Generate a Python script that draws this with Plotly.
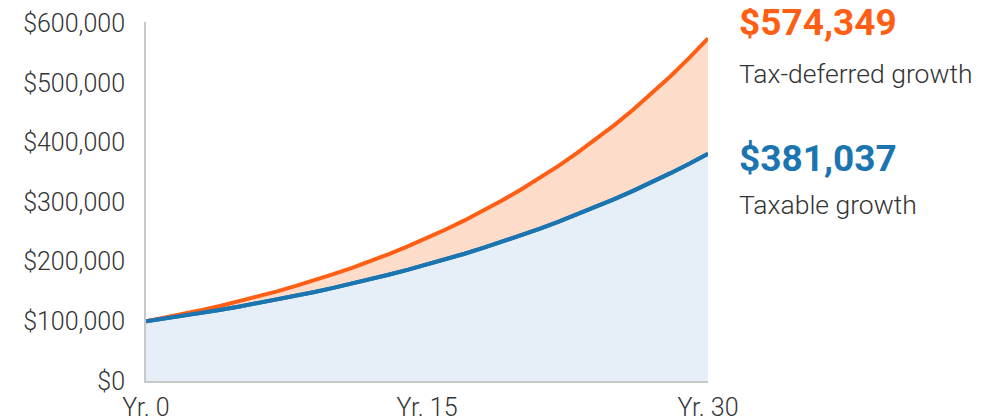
import plotly.graph_objects as go

years = list(range(0, 31))
tax_deferred = [100000, 106000, 112360, 119102, 126248, 133823, 141852, 150363, 159385, 168948,
                179085, 189830, 201220, 213293, 226090, 239656, 254035, 269277, 285434, 302560,
                320714, 339956, 360354, 381975, 404893, 429187, 454938, 482235, 511169, 541839,
                574349]
taxable = [100000, 104560, 109328, 114313, 119526, 124976, 130675, 136634, 142865, 149380,
           156192, 163314, 170761, 178548, 186690, 195203, 204104, 213411, 223143, 233318,
           243957, 255081, 266713, 278875, 291592, 304889, 318792, 333329, 348529, 364422,
           381037]
x_ticks = [0, 15, 30]
x_tick_labels = ["Yr. 0", "Yr. 15", "Yr. 30"]
y_ticks = [0, 100000, 200000, 300000, 400000, 500000, 600000]
y_tick_labels = ["$0", "$100,000", "$200,000", "$300,000", "$400,000", "$500,000", "$600,000"]

ORANGE = "#FF5F15"
BLUE = "#1B75B0"
TEXT = "#333333"
FONT = "Roboto"

fig = go.Figure()
fig.add_trace(go.Scatter(x=years, y=taxable, mode="lines",
                         line=dict(color=BLUE, width=4), fill="tozeroy",
                         fillcolor="#E6EEF7", hoverinfo="skip", showlegend=False))
fig.add_trace(go.Scatter(x=years, y=tax_deferred, mode="lines",
                         line=dict(color=ORANGE, width=4), fill="tonexty",
                         fillcolor="#FEDCCA", hoverinfo="skip", showlegend=False))
fig.add_trace(go.Scatter(x=years, y=taxable, mode="lines",
                         line=dict(color=BLUE, width=4), hoverinfo="skip", showlegend=False))

annots = [
    ("$574,349", 0.999, 37, ORANGE, 700),
    ("Tax-deferred growth", 0.857, 26.5, TEXT, 300),
    ("$381,037", 0.620, 37, BLUE, 700),
    ("Taxable growth", 0.491, 26.5, TEXT, 300),
]
for txt, yy, sz, col, wt in annots:
    fig.add_annotation(x=1.052, y=yy, xref="paper", yref="paper", text=txt,
                       showarrow=False, xanchor="left", yanchor="middle",
                       font=dict(family=FONT, size=sz, color=col, weight=wt))

tick_font = dict(family=FONT, size=25, color=TEXT, weight=300)
fig.update_layout(
    width=999, height=418,
    margin=dict(l=138, r=299, t=14, b=45, autoexpand=False),
    paper_bgcolor="white", plot_bgcolor="white",
    font=tick_font,
    xaxis=dict(range=[0, 30], tickvals=x_ticks, ticktext=x_tick_labels,
               showgrid=False, zeroline=False, showline=True, linecolor="#C8C8C8",
               linewidth=2, ticks="", ticklabelstandoff=3, automargin=False,
               tickfont=tick_font),
    yaxis=dict(range=[0, 602000], tickvals=y_ticks, ticktext=y_tick_labels,
               showgrid=False, zeroline=False, showline=True, linecolor="#C8C8C8",
               linewidth=2, ticks="", ticklabelstandoff=14, automargin=False,
               tickfont=tick_font),
)

fig.write_html("out.html")
